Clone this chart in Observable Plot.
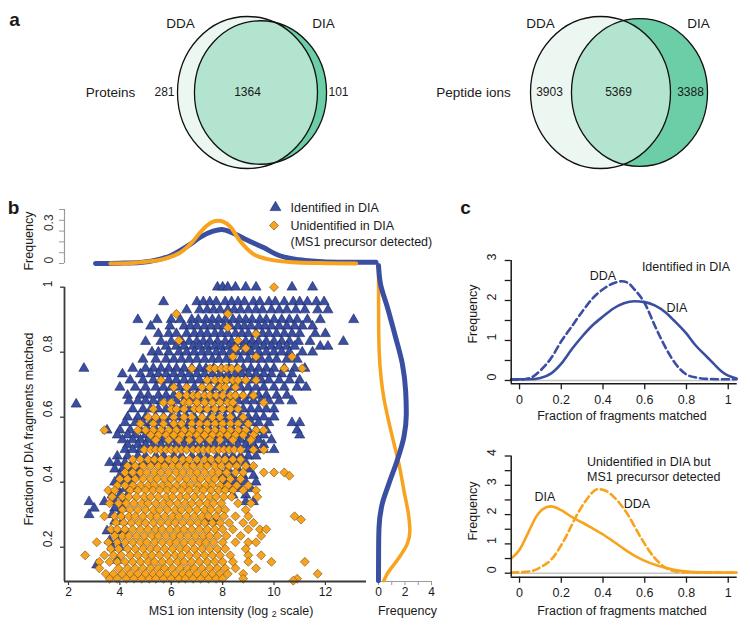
<!DOCTYPE html>
<html>
<head>
<meta charset="utf-8">
<script src="https://cdn.jsdelivr.net/npm/d3@7"></script>
<script src="https://cdn.jsdelivr.net/npm/@observablehq/plot@0.6"></script>
<style>
html,body{margin:0;padding:0;background:#fff;}
#fig{position:relative;width:750px;height:640px;overflow:hidden;font-family:"Liberation Sans",Arial,Helvetica,sans-serif;color:#1a1a1a;background:#fff;}
#fig svg{position:absolute;left:0;top:0;}
.lbl{position:absolute;white-space:nowrap;line-height:1.15;font-size:12.5px;transform:translate(-50%,-50%);}
.lbl.left{transform:translate(0,-50%);line-height:15px;}
.lbl.rot{transform:translate(-50%,-50%) rotate(-90deg);}
.lbl.letter{font-size:19px;font-weight:bold;}
sub{font-size:70%;vertical-align:-0.3em;line-height:0;}
</style>
</head>
<body>
<div id="fig"></div>
<script>
// ---------------- Panel a: Venn counts ----------------
const vennRows = ["Proteins", "Peptide ions"];
const setNames = ["DDA", "DIA"];
const ddaOnly  = [281, 3903];
const overlap  = [1364, 5369];
const diaOnly  = [101, 3388];

// ---------------- Panel b: scatter (rows: [fraction matched, [log2 intensities]]) ----------------
const seriesNames = ["Identified in DIA", "Unidentified in DIA"];
const seriesNote = "(MS1 precursor detected)";

const identifiedRows = [
  [1.000, [7.8, 8.0, 8.2, 8.5, 8.9, 9.3, 10.7, 11.5]],
  [0.955, [5.7, 7.0, 7.25, 7.5, 7.75, 8.1, 8.35, 8.6, 8.85, 9.2, 9.45, 9.8, 10.05, 10.4, 10.75, 11.0, 11.3, 11.65, 11.95]],
  [0.930, [6.6, 7.1, 7.4, 7.65, 7.9, 8.2, 8.45, 8.7, 9.0, 9.3, 9.55, 9.9, 10.2, 10.5, 10.85, 11.2, 11.7, 12.1]],
  [0.900, [4.7, 5.45, 6.0, 6.35, 6.8, 7.05, 7.35, 7.6, 7.85, 8.1, 8.4, 8.65, 8.9, 9.15, 9.45, 9.7, 10.0, 10.3, 10.6, 10.9, 11.3, 11.8, 13.1]],
  [0.880, [5.2, 5.95, 6.5, 6.75, 7.0, 7.3, 7.55, 7.8, 8.05, 8.3, 8.6, 8.85, 9.1, 9.4, 9.65, 9.9, 10.2, 10.5, 10.8, 11.1, 11.5]],
  [0.857, [5.5, 5.9, 6.2, 6.6, 6.9, 7.15, 7.4, 7.7, 7.95, 8.2, 8.5, 8.75, 9.0, 9.3, 9.55, 9.8, 10.1, 10.4, 10.7, 11.0, 11.6, 12.0]],
  [0.833, [5.0, 5.6, 6.0, 6.4, 6.7, 7.0, 7.25, 7.5, 7.8, 8.1, 8.35, 8.6, 8.9, 9.15, 9.4, 9.7, 10.0, 10.3, 10.6, 10.95, 11.4, 12.7]],
  [0.818, [5.8, 6.2, 6.5, 6.85, 7.1, 7.4, 7.7, 7.95, 8.25, 8.5, 8.8, 9.05, 9.3, 9.6, 9.9, 10.2, 10.5, 10.8, 11.8, 12.1]],
  [0.800, [5.25, 5.5, 5.9, 6.3, 6.6, 6.9, 7.2, 7.45, 7.75, 8.0, 8.3, 8.55, 8.85, 9.1, 9.4, 9.7, 10.0, 10.3, 10.6, 11.1, 11.5]],
  [0.778, [4.9, 5.4, 5.8, 6.1, 6.4, 6.7, 7.0, 7.3, 7.6, 7.85, 8.15, 8.4, 8.7, 9.0, 9.25, 9.5, 9.8, 10.1, 10.5, 10.9]],
  [0.750, [2.6, 4.5, 5.0, 5.3, 5.6, 5.9, 6.2, 6.5, 6.8, 7.1, 7.35, 7.65, 7.95, 8.25, 8.55, 8.8, 9.1, 9.4, 9.7, 10.0, 10.4, 10.8, 11.2]],
  [0.733, [4.1, 4.8, 5.2, 5.5, 5.8, 6.1, 6.4, 6.7, 7.0, 7.3, 7.6, 7.9, 8.2, 8.5, 8.75, 9.0, 9.3, 9.6, 9.9, 10.3, 10.7]],
  [0.714, [4.4, 4.9, 5.3, 5.6, 5.9, 6.2, 6.5, 6.8, 7.1, 7.4, 7.7, 8.0, 8.3, 8.6, 8.9, 9.2, 9.5, 9.8, 10.2, 10.6, 11.0]],
  [0.692, [4.0, 4.6, 5.0, 5.4, 5.7, 6.0, 6.3, 6.6, 6.9, 7.2, 7.5, 7.8, 8.1, 8.4, 8.7, 9.0, 9.3, 9.6, 10.0, 10.4, 10.9, 11.25]],
  [0.667, [4.3, 4.8, 5.1, 5.5, 5.8, 6.1, 6.4, 6.7, 7.0, 7.3, 7.6, 7.9, 8.2, 8.5, 8.8, 9.1, 9.4, 9.7, 10.1, 10.5]],
  [0.650, [4.35, 4.7, 5.0, 5.3, 5.6, 5.9, 6.2, 6.5, 6.8, 7.1, 7.4, 7.7, 8.0, 8.3, 8.6, 8.9, 9.2, 9.5, 9.8, 10.2, 10.7]],
  [0.640, [2.3]],
  [0.625, [4.5, 4.9, 5.2, 5.5, 5.8, 6.1, 6.4, 6.7, 7.0, 7.3, 7.6, 7.9, 8.2, 8.5, 8.8, 9.1, 9.4, 9.7, 10.0]],
  [0.600, [4.3, 4.7, 5.0, 5.4, 5.7, 6.0, 6.3, 6.6, 6.9, 7.2, 7.5, 7.8, 8.1, 8.4, 8.7, 9.0, 9.3, 9.6, 10.0]],
  [0.583, [4.2, 4.6, 4.9, 5.2, 5.5, 5.8, 6.1, 6.4, 6.7, 7.0, 7.3, 7.6, 7.9, 8.2, 8.5, 8.8, 9.1, 9.4, 9.8, 10.7, 11.0]],
  [0.560, [3.5, 4.0, 4.4, 4.8, 5.1, 5.4, 5.7, 6.0, 6.3, 6.6, 6.9, 7.2, 7.5, 7.8, 8.1, 8.4, 8.7, 9.0, 9.3, 9.7, 10.9]],
  [0.545, [3.9, 4.3, 4.6, 5.0, 5.3, 5.6, 5.9, 6.2, 6.5, 6.8, 7.1, 7.4, 7.7, 8.0, 8.3, 8.6, 8.9, 9.2, 9.6, 11.0]],
  [0.530, [4.1, 4.5, 4.8, 5.1, 5.4, 5.7, 6.0, 6.3, 6.6, 6.9, 7.2, 7.5, 7.8, 8.1, 8.4, 8.7, 9.0, 9.4, 9.9]],
  [0.515, [4.3, 4.7, 5.0, 5.3, 5.6, 5.9, 6.2, 6.5, 6.8, 7.1, 7.4, 7.7, 8.0, 8.3, 8.6, 8.9, 9.2, 9.6]],
  [0.500, [4.2, 4.5, 4.8, 9.0, 9.3, 9.6, 10.0]],
  [0.480, [3.9, 4.3, 4.7, 5.0, 5.4, 5.7, 6.1, 6.4, 6.8, 7.1, 7.4, 7.8, 8.1, 8.4, 8.7, 9.0, 9.3]],
  [0.460, [3.6, 3.9, 4.2, 4.5, 4.9, 5.2, 5.5, 5.8, 6.2, 6.6, 7.0, 7.4, 7.8, 8.2, 8.5, 8.9]],
  [0.440, [3.8, 4.1, 4.4, 4.7, 8.2, 8.6, 9.0]],
  [0.420, [4.0, 4.3, 4.6, 8.0, 8.4, 8.8, 9.2]],
  [0.400, [3.8, 4.1, 4.4, 8.1, 8.5, 8.9, 9.3]],
  [0.380, [3.9, 4.2, 4.5, 7.9, 8.3, 8.7, 9.1]],
  [0.360, [3.7, 4.0, 4.3, 8.4, 8.9]],
  [0.340, [2.8, 3.4, 3.8, 4.1, 8.9, 9.2]],
  [0.320, [3.0, 3.8, 4.1]],
  [0.300, [2.8, 3.7, 4.0]],
  [0.280, [3.8, 4.1, 7.4, 7.7]],
  [0.250, [3.5, 3.9, 4.2]],
  [0.220, [3.6, 3.9]],
  [0.200, [3.7, 4.0]],
  [0.160, [3.9]],
  [0.145, [3.1]]
];

const unidentifiedRows = [
  [1.000, [10.0]],
  [0.918, [6.2, 8.2]],
  [0.876, [8.2]],
  [0.856, [9.3]],
  [0.836, [6.3, 8.6]],
  [0.812, [8.5, 8.9]],
  [0.786, [8.4, 9.3, 10.7]],
  [0.750, [6.8, 7.5, 7.7, 7.95, 8.15, 8.35, 8.6, 10.4, 11.1]],
  [0.714, [5.6, 7.4, 7.7, 7.95, 8.15, 8.4, 8.6, 8.9, 9.3]],
  [0.692, [6.1, 6.6, 7.2, 7.5, 7.9, 8.1, 8.5]],
  [0.667, [6.3, 6.6, 6.85, 7.05, 7.3, 7.5, 7.75, 8.0, 8.3, 8.5, 8.8, 9.2]],
  [0.645, [5.7, 6.0, 6.5, 6.7, 7.0, 7.3, 7.6, 7.9, 8.2, 8.4, 9.6]],
  [0.625, [5.3, 6.0, 6.2, 6.5, 6.9, 7.1, 7.4, 7.7, 8.0, 8.3, 8.6]],
  [0.600, [5.1, 5.4, 5.7, 6.1, 6.5, 6.8, 7.2, 7.6, 7.9, 8.3, 8.8]],
  [0.580, [4.8, 5.3, 5.7, 6.1, 6.4, 6.8, 7.1, 7.4, 7.7, 8.0, 8.3, 8.6, 9.0]],
  [0.560, [3.4, 4.7, 5.0, 5.3, 5.6, 5.9, 6.2, 6.5, 6.8, 7.1, 7.4, 7.7, 8.0, 8.3, 8.6, 8.9, 9.3, 9.6]],
  [0.545, [5.2, 5.5, 5.8, 6.1, 6.4, 6.7, 7.0, 7.3, 7.6, 7.9, 8.2, 8.5, 8.8, 9.2]],
  [0.530, [5.4, 5.9, 6.3, 6.7, 7.1, 7.5, 7.9, 8.4, 9.1]],
  [0.500, [4.95, 5.2, 5.4, 5.6, 5.8, 6.0, 6.2, 6.4, 6.6, 6.85, 7.05, 7.25, 7.45, 7.65, 7.85, 8.05, 8.25, 8.45, 8.7, 9.2, 9.6]],
  [0.470, [4.5, 4.8, 5.1, 5.35, 5.6, 5.9, 6.15, 6.45, 6.7, 7.0, 7.3, 7.55, 7.85, 8.1, 8.4, 8.7]],
  [0.450, [4.3, 4.6, 4.9, 5.2, 5.5, 5.75, 6.05, 6.3, 6.6, 6.85, 7.15, 7.4, 7.7, 7.95, 8.25, 8.55, 8.9, 9.2]],
  [0.430, [4.2, 4.5, 4.8, 5.05, 5.35, 5.6, 5.9, 6.2, 6.45, 6.75, 7.0, 7.3, 7.6, 7.85, 8.15, 8.5, 8.8, 9.6, 10.0, 10.4]],
  [0.420, [10.6]],
  [0.410, [4.0, 4.3, 4.6, 4.9, 5.2, 5.45, 5.75, 6.0, 6.3, 6.6, 6.9, 7.15, 7.45, 7.7, 8.0, 8.3, 8.7]],
  [0.390, [3.9, 4.2, 4.5, 4.8, 5.1, 5.35, 5.65, 5.9, 6.2, 6.5, 6.75, 7.05, 7.35, 7.6, 7.9, 8.2, 8.55, 9.0]],
  [0.375, [3.55, 3.8, 4.4, 4.7, 5.0, 5.3, 5.55, 5.85, 6.1, 6.4, 6.7, 7.0, 7.25, 7.55, 7.85, 8.1, 8.4, 8.8, 9.3]],
  [0.355, [3.7, 4.1, 4.35, 4.65, 4.95, 5.2, 5.5, 5.8, 6.05, 6.35, 6.6, 6.9, 7.2, 7.5, 7.75, 8.05, 8.35, 9.35]],
  [0.335, [3.6, 3.95, 4.25, 4.55, 4.85, 5.1, 5.4, 5.7, 5.95, 6.25, 6.55, 6.8, 7.1, 7.4, 7.65, 7.95, 8.6, 9.1]],
  [0.315, [4.1, 4.4, 4.7, 5.0, 5.3, 5.55, 5.85, 6.15, 6.4, 6.7, 7.0, 7.3, 7.55, 7.85, 8.1, 8.9]],
  [0.295, [3.4, 3.8, 4.05, 4.35, 4.6, 4.9, 5.2, 5.45, 5.75, 6.05, 6.3, 6.6, 6.9, 7.2, 7.45, 7.75, 8.05, 8.5, 9.0, 10.8]],
  [0.285, [11.05]],
  [0.275, [3.85, 4.15, 4.45, 4.75, 5.0, 5.3, 5.6, 5.9, 6.15, 6.45, 6.75, 7.05, 7.3, 7.6, 7.9, 8.25, 8.8, 9.2]],
  [0.255, [3.65, 3.9, 4.2, 4.5, 4.8, 5.1, 5.4, 5.65, 5.95, 6.25, 6.5, 6.8, 7.1, 7.4, 7.7, 8.0, 8.4, 9.0, 9.45, 9.7]],
  [0.235, [3.8, 4.1, 4.35, 4.65, 4.95, 5.25, 5.5, 5.8, 6.1, 6.35, 6.65, 6.95, 7.25, 7.5, 7.8, 8.15, 8.7, 9.5]],
  [0.215, [3.1, 3.55, 3.9, 4.2, 4.5, 4.8, 5.05, 5.35, 5.65, 5.95, 6.2, 6.5, 6.8, 7.1, 7.35, 7.65, 8.0, 8.5, 9.0, 9.3]],
  [0.195, [3.65, 3.95, 4.3, 4.6, 4.9, 5.2, 5.45, 5.75, 6.05, 6.35, 6.6, 6.9, 7.2, 7.5, 7.8, 8.1, 8.9]],
  [0.175, [2.65, 3.4, 3.75, 4.05, 4.4, 4.7, 5.0, 5.25, 5.55, 5.85, 6.15, 6.4, 6.7, 7.0, 7.3, 7.6, 7.9, 8.3, 9.0, 9.5]],
  [0.155, [3.2, 3.6, 3.9, 4.2, 4.5, 4.8, 5.1, 5.35, 5.65, 5.95, 6.25, 6.5, 6.8, 7.1, 7.4, 7.7, 8.0, 8.4, 9.0, 9.9, 11.2]],
  [0.135, [3.2, 3.95, 4.3, 4.6, 4.9, 5.2, 5.5, 5.75, 6.05, 6.35, 6.65, 6.9, 7.2, 7.5, 7.8, 8.1, 8.5, 9.3]],
  [0.118, [3.45, 3.75, 4.1, 4.4, 4.7, 5.0, 5.3, 5.55, 5.85, 6.15, 6.45, 6.7, 7.0, 7.3, 7.6, 7.9, 8.2, 8.8, 11.7]],
  [0.103, [3.6, 3.9, 4.25, 4.55, 4.85, 5.15, 5.4, 5.7, 6.0, 6.3, 6.55, 6.85, 7.15, 7.45, 7.75, 8.0, 8.8, 10.9]],
  [0.097, [10.75]]
];

// marginal densities: top [log2 intensity, frequency]; right [fraction, frequency]
const topIdentified = [[3.05,0],[4.0,0.003],[4.8,0.01],[5.57,0.04],[6.0,0.075],[6.34,0.12],[6.75,0.18],[7.1,0.24],[7.63,0.30],[7.96,0.315],[8.41,0.28],[8.93,0.22],[9.57,0.15],[10.2,0.074],[11.0,0.034],[12.03,0.015],[13.0,0.012],[13.97,0.012]];
const topUnidentified = [[3.63,0],[4.5,0.005],[5.18,0.02],[5.6,0.035],[6.08,0.07],[6.34,0.10],[6.86,0.21],[7.1,0.28],[7.38,0.35],[7.83,0.395],[8.28,0.345],[8.67,0.21],[9.18,0.09],[9.7,0.043],[10.73,0.012],[11.8,0.004],[13.2,0]];
const rightIdentified = [[0.097,0],[0.2,0.01],[0.26,0.04],[0.333,0.28],[0.395,0.78],[0.467,1.41],[0.54,1.92],[0.61,2.1],[0.68,2.05],[0.764,1.8],[0.846,1.29],[0.94,0.66],[1.01,0.15],[1.067,0]];
const rightUnidentified = [[0.097,0.4],[0.118,0.66],[0.16,1.41],[0.21,2.17],[0.25,2.37],[0.29,2.3],[0.374,1.92],[0.457,1.54],[0.54,1.04],[0.6,0.7],[0.66,0.4],[0.72,0.2],[0.805,0.05],[0.9,0.01],[1.067,0]];

const scatterXTicks = [2, 4, 6, 8, 10, 12];
const scatterYTicks = [0.2, 0.4, 0.6, 0.8, 1];
const topFreqTicks = [0, 0.1, 0.2, 0.3, 0.4, 0.5];
const topFreqLabels = [0, 0.3];
const rightFreqTicks = [0, 1, 2, 3, 4];
const rightFreqLabels = [0, 2, 4];

// ---------------- Panel c: densities [fraction matched, frequency] ----------------
const cIdDDA = [[-0.04,0.02],[0,0.02],[0.05,0.06],[0.1,0.25],[0.15,0.55],[0.2,0.98],[0.25,1.35],[0.3,1.72],[0.35,2.05],[0.4,2.28],[0.45,2.43],[0.49,2.48],[0.52,2.44],[0.55,2.28],[0.6,1.93],[0.65,1.35],[0.7,0.82],[0.75,0.4],[0.8,0.15],[0.85,0.07],[0.9,0.04],[1.0,0.03],[1.04,0.03]];
const cIdDIA = [[-0.04,0.03],[0,0.03],[0.05,0.03],[0.1,0.06],[0.15,0.17],[0.2,0.42],[0.25,0.78],[0.3,1.1],[0.35,1.38],[0.4,1.6],[0.45,1.8],[0.5,1.93],[0.55,1.98],[0.6,1.96],[0.65,1.87],[0.7,1.7],[0.74,1.5],[0.8,1.17],[0.84,0.9],[0.9,0.58],[0.93,0.42],[0.97,0.22],[1.0,0.12],[1.04,0.05]];
const cUnDDA = [[-0.04,0.02],[0,0.03],[0.067,0.09],[0.1,0.2],[0.15,0.45],[0.21,1.08],[0.276,2.0],[0.32,2.5],[0.375,2.87],[0.41,2.82],[0.452,2.6],[0.516,2.03],[0.58,1.23],[0.644,0.55],[0.708,0.15],[0.77,0.04],[0.85,0.02],[1.04,0.02]];
const cUnDIA = [[-0.04,0.5],[0,0.8],[0.04,1.36],[0.08,1.93],[0.11,2.18],[0.15,2.28],[0.2,2.15],[0.25,1.92],[0.3,1.73],[0.34,1.57],[0.4,1.32],[0.45,1.08],[0.5,0.83],[0.55,0.6],[0.6,0.42],[0.66,0.26],[0.74,0.12],[0.82,0.05],[0.9,0.03],[1.04,0.02]];
const cXTicks = [0, 0.2, 0.4, 0.6, 0.8, 1];
const cTopYTicks = [0, 0.5, 1, 1.5, 2, 2.5, 3];
const cTopYLabels = [0, 1, 2, 3];
const cBotYTicks = [0, 0.5, 1, 1.5, 2, 2.5, 3, 3.5, 4];
const cBotYLabels = [0, 1, 2, 3, 4];

// ---------------- layout & style ----------------
const W = 750, H = 640;
const FONT = '"Liberation Sans", Arial, Helvetica, sans-serif';
const BLUE = "#3b4fa2", ORANGE = "#f8a31e", INK = "#1a1a1a";
const AXIS_DARK = "#3a3a3a", AXIS_LIGHT = "#9a9a9a";
const VENN_LIGHT = "#edf7f2", VENN_MID = "#b3e4cf", VENN_DARK = "#6ccea6";
const fig = document.getElementById("fig");

function plotAt(frame, opts) {
  const [x0, x1, y0, y1] = frame;
  const svg = Plot.plot({
    width: W, height: H,
    marginLeft: x0, marginRight: W - x1, marginTop: y0, marginBottom: H - y1,
    style: {background: "transparent", overflow: "visible", fontFamily: FONT, fontSize: "12px",
            color: INK, position: "absolute", left: "0px", top: "0px", maxWidth: "none"},
    ...opts
  });
  // axis marks are used only for tick lines; drop their empty label nodes
  svg.querySelectorAll("text").forEach(t => { if (!t.textContent.trim()) t.remove(); });
  fig.appendChild(svg);
  return svg;
}
const fx = d => d[0], fy = d => d[1];
const toPts = rows => rows.flatMap(([y, xs]) => xs.map(x => ({x, y})));

// ----- Venn diagrams -----
const VENN = [
  {cx: {DDA: 247, DIA: 260}, cy: 92, rMax: 70, ky: 1.086, countX: [164, 247, 338], rowX: 110, setX: {DDA: 180, DIA: 323}, setY: 23},
  {cx: {DDA: 600, DIA: 639}, cy: 92, rMax: 70, ky: 1.086, countX: [549, 618, 690], rowX: 473, setX: {DDA: 540, DIA: 698}, setY: 23}
];
vennRows.forEach((row, i) => {
  const L = VENN[i];
  const sets = setNames.map((s, j) => ({set: s, size: j === 0 ? ddaOnly[i] + overlap[i] : diaOnly[i] + overlap[i]}));
  const regions = [ddaOnly[i], overlap[i], diaOnly[i]];
  const pos = {x: d => L.cx[d.set], y: () => L.cy, r: "size"};
  const svg = plotAt([0, W, 0, H], {
    x: {type: "identity"}, y: {type: "identity"},
    r: {type: "sqrt", domain: [0, d3.max(sets, d => d.size)], range: [0, L.rMax]},
    marks: [
      Plot.dot([sets[0]], {...pos, fill: VENN_LIGHT}),
      Plot.dot([sets[1]], {...pos, fill: VENN_DARK}),
      Plot.dot([sets[1]], {...pos, fill: VENN_MID}),
      Plot.dot(sets, {...pos, fill: "none", stroke: "#111", strokeWidth: 1.3}),
      Plot.text(regions, {x: (d, k) => L.countX[k], y: () => L.cy, text: d => String(d), fontSize: 12}),
      Plot.text(setNames, {x: d => L.setX[d], y: () => L.setY, text: d => d, fontSize: 13.5}),
      Plot.text([row], {x: () => L.rowX, y: () => L.cy, text: d => d, fontSize: 13.5})
    ]
  });
  const groups = svg.querySelectorAll('g[aria-label="dot"]');
  groups.forEach(g => g.querySelectorAll("circle").forEach(c => {
    const cy = +c.getAttribute("cy");
    if (!isNaN(cy)) {
      c.setAttribute("transform", `matrix(1 0 0 ${L.ky} 0 ${(cy * (1 - L.ky)).toFixed(3)})`);
      c.setAttribute("vector-effect", "non-scaling-stroke");
    }
  }));
  const src = groups[0] && groups[0].querySelector("circle");
  if (src && groups[2]) {
    const ns = "http://www.w3.org/2000/svg";
    const defs = document.createElementNS(ns, "defs");
    const clip = document.createElementNS(ns, "clipPath");
    clip.setAttribute("id", "vennclip" + i);
    clip.appendChild(src.cloneNode(false));
    defs.appendChild(clip);
    svg.insertBefore(defs, svg.firstChild);
    groups[2].setAttribute("clip-path", `url(#vennclip${i})`);
  }
});

// ----- Panel b: scatter -----
const SX = [1.845, 13.6], SY = [0.0945, 1];
plotAt([64, 366, 286.7, 581], {
  x: {domain: SX, axis: null}, y: {domain: SY, axis: null},
  marks: [
    Plot.dot(toPts(identifiedRows), {x: "x", y: "y", symbol: "triangle", r: 3.75, fill: BLUE, stroke: "#1d2862", strokeWidth: 0.6}),
    Plot.dot(toPts(unidentifiedRows), {x: "x", y: "y", symbol: "diamond2", r: 4.05, fill: ORANGE, stroke: "#6b4a12", strokeWidth: 0.6}),
    Plot.ruleX([SX[0]], {stroke: AXIS_DARK, strokeWidth: 1.8}),
    Plot.ruleY([SY[0]], {stroke: AXIS_DARK, strokeWidth: 1.8}),
    Plot.axisY({ticks: scatterYTicks, tickSize: 4, tickFormat: () => "", stroke: AXIS_DARK, strokeWidth: 1.3, label: null}),
    Plot.axisX({ticks: scatterXTicks, tickSize: 4, tickFormat: () => "", stroke: AXIS_DARK, strokeWidth: 1.2, label: null}),
    Plot.text(scatterYTicks, {y: d => d, text: d => String(d), frameAnchor: "left", dx: -16, rotate: -90, fontSize: 12}),
    Plot.text(scatterXTicks, {x: d => d, text: d => String(d), frameAnchor: "bottom", dy: 14, fontSize: 12})
  ]
});

// top marginal density
plotAt([64, 366, 209, 263], {
  x: {domain: SX, axis: null}, y: {domain: [0, 0.5], axis: null},
  marks: [
    Plot.ruleX([SX[0]], {stroke: AXIS_LIGHT, strokeWidth: 1.2}),
    Plot.axisY({ticks: topFreqTicks, tickSize: 5, tickFormat: () => "", stroke: AXIS_LIGHT, label: null}),
    Plot.text(topFreqLabels, {y: d => d, text: d => String(d), frameAnchor: "left", dx: -15, rotate: -90, fontSize: 12, fill: "#333"}),
    Plot.line(topIdentified, {x: fx, y: fy, stroke: BLUE, strokeWidth: 5, curve: "monotone-x"}),
    Plot.line(topUnidentified, {x: fx, y: fy, stroke: ORANGE, strokeWidth: 4, curve: "monotone-x"})
  ]
});

// right marginal density
plotAt([376, 432, 286.7, 581], {
  x: {domain: [-0.15, 4.075], axis: null}, y: {domain: SY, axis: null},
  marks: [
    Plot.ruleY([SY[0]], {stroke: AXIS_LIGHT, strokeWidth: 1.2}),
    Plot.axisX({ticks: rightFreqTicks, tickSize: 4, tickFormat: () => "", stroke: AXIS_LIGHT, label: null}),
    Plot.text(rightFreqLabels, {x: d => d, text: d => String(d), frameAnchor: "bottom", dy: 14, fontSize: 12}),
    Plot.line(rightUnidentified, {x: fy, y: fx, stroke: ORANGE, strokeWidth: 3.5, curve: "monotone-y"}),
    Plot.line(rightIdentified, {x: fy, y: fx, stroke: BLUE, strokeWidth: 5, curve: "monotone-y"})
  ]
});

// legend
const LEG = {symX: [275, 273.5], y: [207, 225], textX: 290, noteY: 241};
plotAt([0, W, 0, H], {
  x: {type: "identity"}, y: {type: "identity"},
  marks: [
    Plot.dot([seriesNames[0]], {x: () => LEG.symX[0], y: () => LEG.y[0], symbol: "triangle", r: 4, fill: BLUE, stroke: "#1d2862", strokeWidth: 0.6}),
    Plot.dot([seriesNames[1]], {x: () => LEG.symX[1], y: () => LEG.y[1], symbol: "diamond2", r: 4.1, fill: ORANGE, stroke: "#6b4a12", strokeWidth: 0.6}),
    Plot.text(seriesNames, {x: () => LEG.textX, y: (d, i) => LEG.y[i], text: d => d, textAnchor: "start", fontSize: 12.5}),
    Plot.text([seriesNote], {x: () => LEG.textX, y: () => LEG.noteY, text: d => d, textAnchor: "start", fontSize: 12.5})
  ]
});

// ----- Panel c -----
const CX = [-0.04, 1.043];
function cPanel(frame, ydom, yTicks, yLabels, dda, dia, color) {
  plotAt(frame, {
    x: {domain: CX, axis: null}, y: {domain: ydom, axis: null},
    marks: [
      Plot.ruleY([0], {stroke: "#c6c6c6", strokeWidth: 1.6}),
      Plot.line(dia, {x: fx, y: fy, stroke: color, strokeWidth: 2.6, curve: "monotone-x"}),
      Plot.line(dda, {x: fx, y: fy, stroke: color, strokeWidth: 2.6, strokeDasharray: "7,4", curve: "monotone-x"}),
      Plot.ruleX([CX[0]], {stroke: INK, strokeWidth: 1.5}),
      Plot.ruleY([ydom[0]], {stroke: INK, strokeWidth: 1.5}),
      Plot.axisY({ticks: yTicks, tickSize: 6, tickFormat: () => "", stroke: INK, strokeWidth: 1.3, label: null}),
      Plot.axisX({ticks: cXTicks, tickSize: 6, tickFormat: () => "", stroke: INK, strokeWidth: 1.3, label: null}),
      Plot.text(yLabels, {y: d => d, text: d => String(d), frameAnchor: "left", dx: -19, rotate: -90, fontSize: 12.5}),
      Plot.text(cXTicks, {x: d => d, text: d => String(d), frameAnchor: "bottom", dy: 20, fontSize: 12.5})
    ]
  });
}
cPanel([510.7, 736.7, 260, 383.3], [-0.083, 3], cTopYTicks, cTopYLabels, cIdDDA, cIdDIA, BLUE);
cPanel([510.7, 736.7, 455.5, 576.7], [-0.137, 4], cBotYTicks, cBotYLabels, cUnDDA, cUnDIA, ORANGE);

// ----- HTML text labels -----
const htmlLabels = [
  {html: "a", x: 14.5, y: 19.5, cls: "letter"},
  {html: "b", x: 13.5, y: 207.5, cls: "letter"},
  {html: "c", x: 465.5, y: 207.5, cls: "letter"},
  {html: "Fraction of DIA fragments matched", x: 29, y: 429, cls: "rot"},
  {html: "Frequency", x: 28.5, y: 241, cls: "rot"},
  {html: "MS1 ion intensity (log <sub>2</sub> scale)", x: 231, y: 611},
  {html: "Frequency", x: 407.5, y: 611},
  {html: "Frequency", x: 473, y: 314, cls: "rot"},
  {html: "Fraction of fragments matched", x: 622, y: 416},
  {html: "Identified in DIA", x: 686, y: 267},
  {html: "DDA", x: 603, y: 276},
  {html: "DIA", x: 677, y: 308},
  {html: "Frequency", x: 473, y: 511, cls: "rot"},
  {html: "Fraction of fragments matched", x: 622, y: 611},
  {html: "Unidentified in DIA but<br>MS1 precursor detected", x: 587, y: 470, cls: "left"},
  {html: "DDA", x: 637, y: 504},
  {html: "DIA", x: 545, y: 497}
];
htmlLabels.forEach(l => {
  const d = document.createElement("div");
  d.className = "lbl" + (l.cls ? " " + l.cls : "");
  d.style.left = l.x + "px";
  d.style.top = l.y + "px";
  d.innerHTML = l.html;
  fig.appendChild(d);
});
</script>
</body>
</html>
